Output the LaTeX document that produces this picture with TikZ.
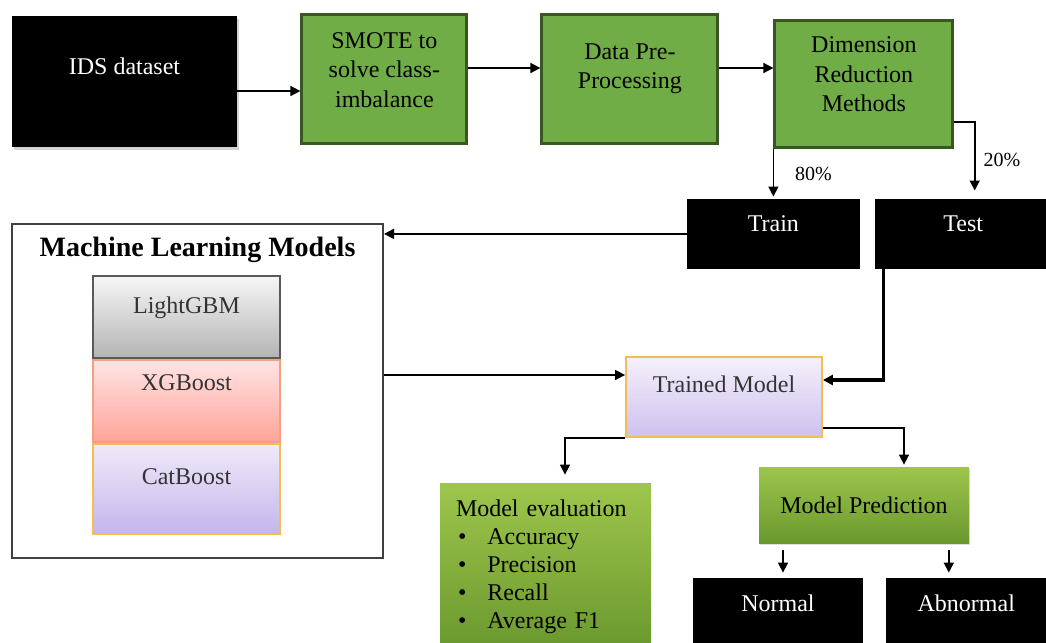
\documentclass[tikz,border=0pt]{standalone}
\usepackage{fontspec}
\setmainfont{Liberation Serif}
\usetikzlibrary{arrows.meta,positioning,shadows}

\definecolor{stepgreen}{RGB}{112,173,71}
\definecolor{stepedge}{RGB}{56,87,35}
\definecolor{leaftop}{RGB}{158,198,76}
\definecolor{leafbot}{RGB}{106,152,46}
\definecolor{graytop}{RGB}{246,246,246}
\definecolor{graybot}{RGB}{180,180,180}
\definecolor{grayedge}{RGB}{89,89,89}
\definecolor{pinktop}{RGB}{255,228,228}
\definecolor{pinkbot}{RGB}{255,164,154}
\definecolor{pinkedge}{RGB}{244,160,130}
\definecolor{lilactop}{RGB}{240,234,249}
\definecolor{lilacbot}{RGB}{196,182,236}
\definecolor{goldedge}{RGB}{242,190,80}

\begin{document}
\begin{tikzpicture}[>={Triangle[length=5pt,width=5pt]},
  font=\fontsize{12}{14.75}\selectfont,
  darkbox/.style={fill=black, text=white, inner sep=0pt},
  greenbox/.style={draw=stepedge, line width=1.5pt, fill=stepgreen, align=center, inner sep=0pt},
  leafbox/.style={top color=leaftop, bottom color=leafbot, inner sep=0pt},
  modelbox/.style={line width=0.9pt, minimum width=93.5pt, inner sep=0pt, text=black!80},
  framebox/.style={draw=black!75, line width=1pt, fill=white},
  tx/.style={text height=8pt, text depth=#1},
  arr/.style={->, line width=0.8pt},
  pct/.style={font=\fontsize{10}{12}\selectfont, inner sep=0pt}]
\useasboundingbox (0,0) rectangle (523pt,-321.5pt);
\clip (0,0) rectangle (523pt,-321.5pt);

% top row
\node[darkbox, tx=15.5pt, minimum width=112.5pt, minimum height=65.5pt,
      drop shadow={opacity=0.35, shadow xshift=0.8pt, shadow yshift=-1.5pt}]
      (ids) at (62.25pt,-40.75pt) {IDS dataset};
\node[greenbox, text height=37.5pt, text depth=9pt, minimum width=82.5pt, minimum height=64.5pt,
      right=31.5pt of ids, yshift=1.5pt] (smote) {SMOTE to\\solve class-\\imbalance};
\node[greenbox, text height=22.75pt, text depth=12.5pt, minimum width=88pt, minimum height=64.5pt,
      right=36pt of smote] (prep) {Data Pre-\\Processing};
\node[greenbox, text height=37.5pt, text depth=9.5pt, minimum width=89pt, minimum height=63.5pt,
      right=27pt of prep, yshift=-2.5pt] (dimred) {Dimension\\Reduction\\Methods};

% split
\node[darkbox, tx=10pt, minimum width=86.5pt, minimum height=35pt,
      below=25pt of dimred.south west] (train) {Train};
\node[darkbox, tx=10pt, minimum width=88.5pt, minimum height=35pt,
      right=7pt of train] (test) {Test};

% models
\node[framebox, minimum width=185.5pt, minimum height=167pt] (mlbox) at (98.75pt,-195.5pt) {};
\node[font=\fontsize{14}{16}\selectfont\bfseries, inner sep=0pt,
      below=7pt of mlbox.north] (mltitle) {Machine Learning Models};
\node[modelbox, tx=12pt, minimum height=41pt, draw=grayedge,
      top color=graytop, bottom color=graybot] (lgbm) at (93.25pt,-158.5pt) {LightGBM};
\node[modelbox, tx=18pt, minimum height=41pt, draw=pinkedge,
      top color=pinktop, bottom color=pinkbot, below=0pt of lgbm] (xgb) {XGBoost};
\node[modelbox, tx=12pt, minimum height=45pt, draw=goldedge,
      top color=lilactop, bottom color=lilacbot, below=0pt of xgb] (cat) {CatBoost};

% outputs
\node[modelbox, tx=13pt, minimum width=98pt, minimum height=40pt, draw=goldedge,
      top color=lilactop!70!white, bottom color=lilacbot!85!white] (trained) at (362pt,-198.5pt) {Trained Model};
\node[leafbox, minimum width=105.5pt, minimum height=84pt, text width=89.5pt,
      inner xsep=8pt, align=left, font=\fontsize{12}{14}\selectfont]
      (eval) at (272.75pt,-283.5pt)
      {Model evaluation\\
       \hspace*{1pt}\textbullet\hspace{10.5pt}Accuracy\\
       \hspace*{1pt}\textbullet\hspace{10.5pt}Precision\\
       \hspace*{1pt}\textbullet\hspace{10.5pt}Recall\\
       \hspace*{1pt}\textbullet\hspace{10.5pt}Average F1};
\node[leafbox, minimum width=105pt, minimum height=38pt,
      drop shadow={opacity=0.25, shadow xshift=0.6pt, shadow yshift=-1.2pt}]
      (pred) at (432pt,-252.5pt) {Model Prediction};
\node[darkbox, tx=15pt, minimum width=85pt, minimum height=40pt] (normal) at (389pt,-309pt) {Normal};
\node[darkbox, tx=15pt, minimum width=80.5pt, minimum height=40pt,
      right=11pt of normal] (abnormal) {Abnormal};

% connectors
\draw[arr] ([yshift=-4.75pt]ids.east) -- ([yshift=-4.75pt]ids.east -| smote.west);
\draw[arr] ([yshift=5.25pt]smote.east) -- ([yshift=5.25pt]smote.east -| prep.west);
\draw[arr] ([yshift=5.25pt]prep.east) -- ([yshift=5.25pt]prep.east -| dimred.west);
\draw[arr, shorten >=1pt] (dimred.south west) -- node[pct, right=10.5pt] (p80) {80\%} (train.north);
\draw[arr, shorten >=4pt] ([yshift=-19.25pt]dimred.east) -| node[pct, pos=0.75, right=4pt] (p20) {20\%}
      ([xshift=5.75pt]test.north);
\draw[arr] (train.west) -- (train.west -| mlbox.east);
\draw[arr] ([yshift=11pt]trained.west -| mlbox.east) -- ([yshift=11pt]trained.west);
\draw[arr, line width=1.6pt] ([xshift=4.5pt]test.south west) |- ([yshift=8.5pt]trained.east);
\draw[arr, shorten >=4pt] (trained.south west) -| ([xshift=9.75pt]eval.north);
\draw[arr, shorten >=1pt] ([yshift=-15.5pt]trained.east) -| ([xshift=20pt]pred.north);
\draw[arr, shorten <=3.5pt, shorten >=2.5pt] ([xshift=2.5pt]normal.north |- pred.south) -- ([xshift=2.5pt]normal.north);
\draw[arr, shorten <=3.5pt, shorten >=2.5pt] ([xshift=-8.75pt]abnormal.north |- pred.south) -- ([xshift=-8.75pt]abnormal.north);
\end{tikzpicture}
\end{document}
